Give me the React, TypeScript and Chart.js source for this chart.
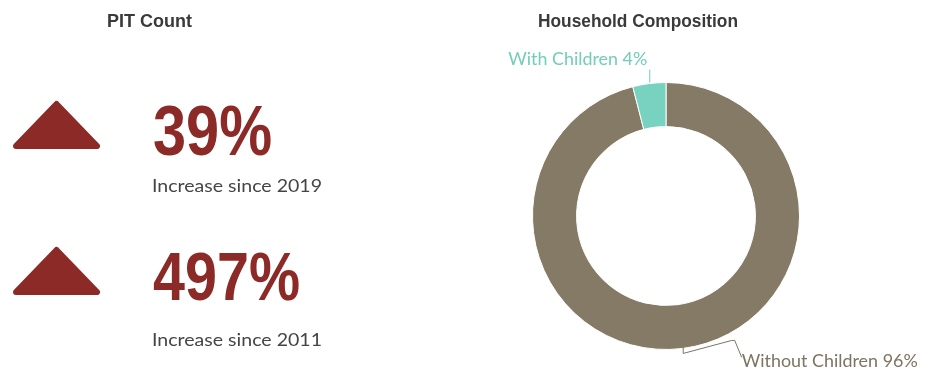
import React, { useEffect, useRef } from 'react';
import { Chart, registerables } from 'chart.js';

Chart.register(...registerables);

// ---- data ----
const pitTitle = 'PIT Count';
const pitValues = ['39%', '497%'];
const pitCaptions = ['Increase since 2019', 'Increase since 2011'];

const householdTitle = 'Household Composition';
const householdLabels = ['Without Children', 'With Children'];
const householdValues = [96, 4];
const householdColors = ['#847a65', '#78d2c0'];
const householdLabelColors = ['#7d7462', '#72cdb9'];

// ---- styles ----
const RED = '#8b2a26';
const TITLE_COLOR = '#3a3a3a';
const CAPTION_COLOR = '#454545';

function fitText(
  ctx: CanvasRenderingContext2D,
  text: string,
  x: number,
  y: number,
  width: number,
  align: 'left' | 'right' = 'left'
) {
  ctx.textAlign = 'left';
  ctx.textBaseline = 'alphabetic';
  const m = ctx.measureText(text).width;
  const k = width / m;
  ctx.save();
  ctx.translate(x, y);
  ctx.scale(k, 1);
  ctx.fillText(text, align === 'right' ? -m : 0, 0);
  ctx.restore();
}

function triangle(ctx: CanvasRenderingContext2D, top: number) {
  ctx.save();
  ctx.fillStyle = RED;
  ctx.strokeStyle = RED;
  ctx.lineWidth = 6;
  ctx.lineJoin = 'round';
  ctx.beginPath();
  ctx.moveTo(56.5, top + 4);
  ctx.lineTo(97, top + 46);
  ctx.lineTo(16, top + 46);
  ctx.closePath();
  ctx.fill();
  ctx.stroke();
  ctx.restore();
}

const panelPlugin = {
  id: 'panel',
  afterDraw(chart: any) {
    const ctx: CanvasRenderingContext2D = chart.ctx;
    ctx.save();
    // titles
    ctx.fillStyle = TITLE_COLOR;
    ctx.font = 'bold 19px "Liberation Sans"';
    fitText(ctx, pitTitle, 107, 27, 85);
    fitText(ctx, householdTitle, 538, 27, 200);

    // triangles
    triangle(ctx, 100);
    triangle(ctx, 246);

    // big numbers
    ctx.fillStyle = RED;
    ctx.font = 'bold 71px "Liberation Sans"';
    fitText(ctx, pitValues[0], 153, 155, 119);
    ctx.font = 'bold 69px "Liberation Sans"';
    fitText(ctx, pitValues[1], 153, 300, 147);

    // captions
    ctx.fillStyle = CAPTION_COLOR;
    ctx.font = '18px Lato';
    fitText(ctx, pitCaptions[0], 152, 192, 170);
    fitText(ctx, pitCaptions[1], 152, 346, 170);
    ctx.restore();
  },
};

const leaderPlugin = {
  id: 'leaders',
  afterDatasetsDraw(chart: any) {
    const ctx: CanvasRenderingContext2D = chart.ctx;
    const meta = chart.getDatasetMeta(0);
    ctx.save();
    ctx.lineWidth = 1;
    ctx.font = '17px Lato';
    meta.data.forEach((arc: any, i: number) => {
      const p = arc.getProps(['x', 'y', 'startAngle', 'endAngle', 'outerRadius'], true);
      const mid = (p.startAngle + p.endAngle) / 2;
      const px = p.x + Math.cos(mid) * p.outerRadius;
      const py = p.y + Math.sin(mid) * p.outerRadius;
      const text = `${householdLabels[i]} ${householdValues[i]}%`;
      ctx.strokeStyle = householdLabelColors[i];
      ctx.fillStyle = householdLabelColors[i];
      ctx.beginPath();
      if (py < p.y) {
        ctx.moveTo(px + 0.5, py - 1);
        ctx.lineTo(px + 0.5, py - 14);
        ctx.stroke();
        fitText(ctx, text, px - 2, py - 19, 139, 'right');
      } else {
        ctx.moveTo(px + 0.5, py - 1);
        ctx.lineTo(px + 0.5, py + 5);
        ctx.lineTo(px + 49, py - 8);
        ctx.lineTo(px + 52, py - 8);
        ctx.lineTo(px + 59, py + 9);
        ctx.stroke();
        fitText(ctx, text, px + 59, py + 19, 176);
      }
    });
    ctx.restore();
  },
};

export default function App() {
  const ref = useRef<HTMLCanvasElement | null>(null);

  useEffect(() => {
    if (!ref.current) return;
    const chart = new Chart(ref.current, {
      type: 'doughnut',
      data: {
        labels: householdLabels,
        datasets: [
          {
            data: householdValues,
            backgroundColor: householdColors,
            borderColor: '#ffffff',
            borderWidth: 1,
          },
        ],
      },
      options: {
        animation: false,
        responsive: true,
        maintainAspectRatio: false,
        cutout: '67%',
        rotation: 0,
        layout: { padding: { left: 532, right: 134, top: 82, bottom: 20 } },
        plugins: {
          legend: { display: false },
          tooltip: { enabled: false },
          title: { display: false },
        },
        events: [],
      },
      plugins: [panelPlugin, leaderPlugin],
    });
    return () => chart.destroy();
  }, []);

  return (
    <div style={{ position: 'absolute', left: 0, top: 0, width: 934, height: 370, background: '#fff' }}>
      <canvas ref={ref} />
    </div>
  );
}
